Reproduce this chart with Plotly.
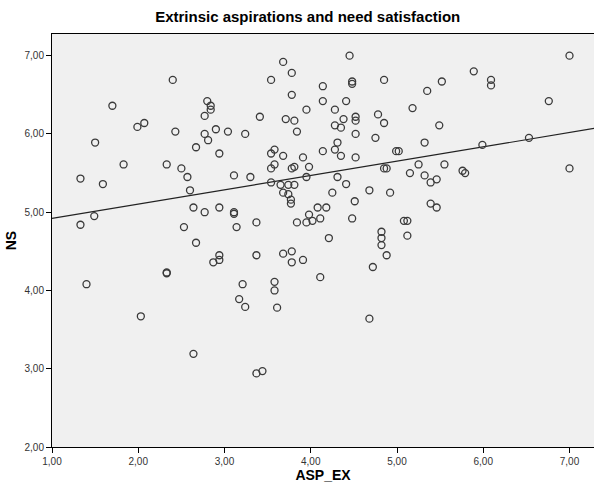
import plotly.graph_objects as go

asp_ex = [2.40,1.70,1.99,2.07,2.43,2.80,2.84,2.84,2.77,2.77,2.81,2.90,3.04,3.24,1.50,2.67,2.94,1.83,2.33,2.50,
          2.57,3.11,1.33,3.30,1.59,2.60,1.49,1.33,2.64,2.77,2.94,3.11,3.11,2.53,3.14,2.67,2.94,2.94,2.87,2.33,
          2.33,1.40,3.21,3.17,3.24,2.03,2.64,3.61,4.68,3.37,3.44,
          3.54,3.65,3.74,3.81,3.95,4.31,4.41,4.25,4.68,4.92,3.68,3.74,3.77,3.77,4.51,5.15,5.32,5.39,5.46,5.39,
          5.46,3.37,3.84,3.95,3.98,4.02,4.08,4.18,4.11,4.48,5.08,5.12,5.12,4.21,4.82,4.82,4.82,4.88,4.72,3.37,
          3.68,3.78,3.78,3.91,4.11,3.58,3.58,
          4.45,3.68,3.78,3.54,4.14,4.48,4.48,4.85,5.52,5.35,3.78,4.14,4.41,3.95,4.28,3.41,3.71,3.81,4.38,4.52,
          4.52,4.78,4.85,5.18,5.49,4.28,4.35,3.84,4.52,4.75,4.31,5.32,3.58,3.54,3.68,4.14,4.28,4.35,4.52,3.91,
          4.99,5.02,3.58,3.54,3.78,3.81,3.98,4.85,4.88,5.25,5.55,
          7.00,5.89,6.09,6.09,6.76,6.53,5.99,5.76,5.79,7.00]
ns = [6.69,6.36,6.09,6.14,6.03,6.42,6.36,6.31,6.23,6.00,5.92,6.06,6.03,6.00,5.89,5.83,5.75,5.61,5.61,5.56,
      5.45,5.47,5.43,5.45,5.36,5.28,4.95,4.84,5.06,5.00,5.06,5.00,4.98,4.81,4.81,4.61,4.45,4.39,4.36,4.23,
      4.22,4.08,4.08,3.89,3.79,3.67,3.19,3.78,3.64,2.94,2.97,
      5.38,5.35,5.35,5.35,5.45,5.45,5.36,5.25,5.28,5.25,5.25,5.23,5.16,5.11,5.14,5.50,5.47,5.38,5.42,5.11,
      5.06,4.87,4.87,4.87,4.97,4.89,5.06,5.06,4.92,4.92,4.89,4.89,4.70,4.67,4.75,4.67,4.58,4.45,4.30,4.45,
      4.47,4.50,4.36,4.39,4.17,4.11,4.00,
      7.00,6.92,6.78,6.69,6.61,6.67,6.64,6.69,6.67,6.55,6.50,6.42,6.42,6.31,6.31,6.22,6.19,6.17,6.19,6.22,
      6.17,6.25,6.14,6.33,6.11,6.11,6.08,6.03,6.00,5.95,5.89,5.89,5.80,5.75,5.72,5.78,5.80,5.72,5.70,5.70,
      5.78,5.78,5.61,5.56,5.56,5.58,5.58,5.56,5.56,5.61,5.61,
      7.00,6.80,6.69,6.62,6.42,5.95,5.86,5.53,5.50,5.56]

fit_x = [1.0, 7.284]
fit_y = [4.92, 6.07]

x_ticks = [1, 2, 3, 4, 5, 6, 7]
x_labels = ["1,00", "2,00", "3,00", "4,00", "5,00", "6,00", "7,00"]
y_ticks = [2, 3, 4, 5, 6, 7]
y_labels = ["2,00", "3,00", "4,00", "5,00", "6,00", "7,00"]

fig = go.Figure()
fig.add_trace(go.Scatter(x=fit_x, y=fit_y, mode="lines",
                         line=dict(color="#222222", width=1.2), hoverinfo="skip"))
fig.add_trace(go.Scatter(x=asp_ex, y=ns, mode="markers",
                         marker=dict(symbol="circle-open", size=7, color="#3a3a3a",
                                     line=dict(width=1.3, color="#3a3a3a"))))

font_family = "Liberation Sans, Arial, sans-serif"
fig.update_layout(
    width=594, height=495,
    margin=dict(l=52, r=0, t=34, b=48),
    paper_bgcolor="white", plot_bgcolor="#F0F0F0",
    showlegend=False,
    title=dict(text="<b>Extrinsic aspirations and need satisfaction</b>",
               x=0.518, xanchor="center", y=1 - 17 / 495, yanchor="middle",
               font=dict(family=font_family, size=15, color="#000000")),
    font=dict(family=font_family),
)
fig.update_xaxes(range=[1, 7.284], tickvals=x_ticks, ticktext=x_labels,
                 showgrid=False, zeroline=False, showline=True, linecolor="#000000", linewidth=1,
                 mirror=True,
                 ticks="outside", ticklen=5, tickcolor="#000000",
                 tickfont=dict(size=10, color="#333333", family=font_family),
                 title=dict(text="<b>ASP_EX</b>", font=dict(size=14, color="#000000", family=font_family),
                            standoff=2))
fig.update_yaxes(range=[2, 7.277], tickvals=y_ticks, ticktext=y_labels,
                 showgrid=False, zeroline=False, showline=True, linecolor="#000000", linewidth=1,
                 ticks="outside", ticklen=5, tickcolor="#000000",
                 tickfont=dict(size=10, color="#333333", family=font_family),
                 title=dict(text="<b>NS</b>", font=dict(size=14, color="#000000", family=font_family),
                            standoff=4))

fig.write_html("out.html")
